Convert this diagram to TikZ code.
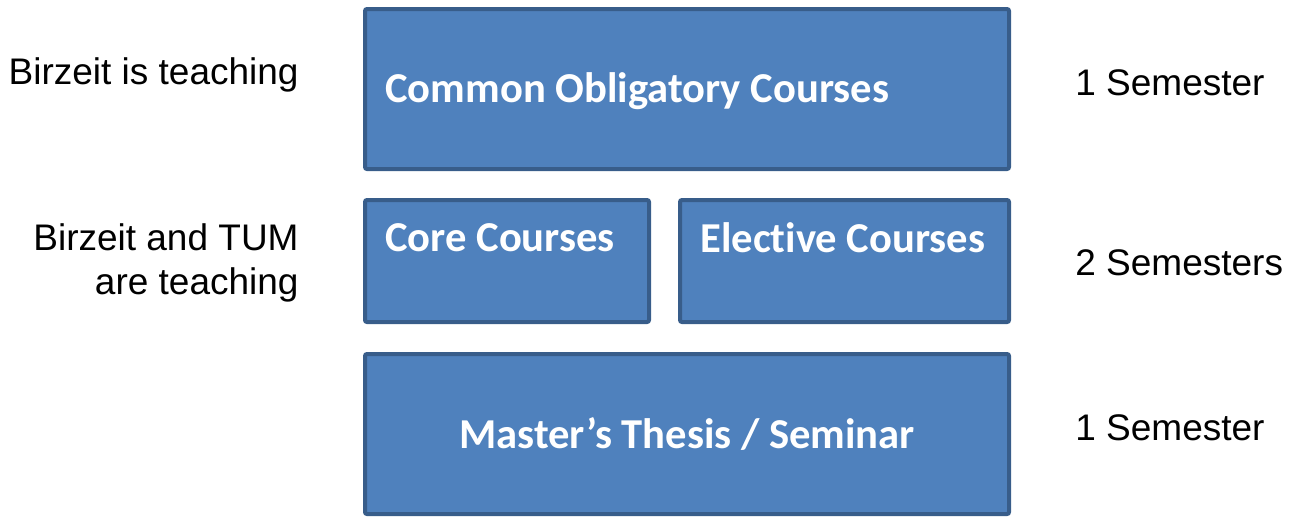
\documentclass[tikz,border=0pt]{standalone}
\usepackage{fontspec}
\setmainfont{Liberation Sans}
\newfontfamily\boxfont[RawFeature={-liga;-clig;-dlig;-calt}]{Carlito}
\usepackage{tikz}
\definecolor{boxfill}{HTML}{4F81BD}
\definecolor{boxline}{HTML}{385D8A}
\tikzset{
  block/.style={draw=boxline, fill=boxfill, line width=2pt, rounded corners=1pt, inner sep=0pt},
  blocktext/.style={text=white, font=\boxfont\bfseries\fontsize{21.3}{25}\selectfont, inner sep=0pt},
  side/.style={font=\fontsize{18.5}{22}\selectfont, inner sep=0pt}
}
\begin{document}
\begin{tikzpicture}[x=0.5pt, y=-0.5pt]
\useasboundingbox (0,0) rectangle (1300,516);
\node[block, minimum width=322pt, minimum height=80pt] (common) at (687,89){};
\node[block, minimum width=142pt, minimum height=61pt] (core) at (507,261){};
\node[block, minimum width=164.5pt, minimum height=61pt] (elective) at (844.5,261){};
\node[block, minimum width=322pt, minimum height=80pt, blocktext] (thesis) at (687,434){Master’s Thesis / Seminar};
\node[blocktext, anchor=west] (commontxt) at (385,91){Common Obligatory Courses};
\node[blocktext, anchor=west] (coretxt) at (385,238){Core Courses};
\node[blocktext, anchor=west] (electivetxt) at (700,238){Elect\kern0pt ive Courses};
\node[side, anchor=east] (bzu) at (299,75){Birzeit is teaching};
\node[side, anchor=east, align=right] (both) at (299,263){Birzeit and TUM\\are teaching};
\node[side, anchor=west] (sem1) at (1075,83){1 Semester};
\node[side, anchor=west] (sem2) at (1075,263){2 Semesters};
\node[side, anchor=west] (sem3) at (1075,428){1 Semester};
\end{tikzpicture}
\end{document}
